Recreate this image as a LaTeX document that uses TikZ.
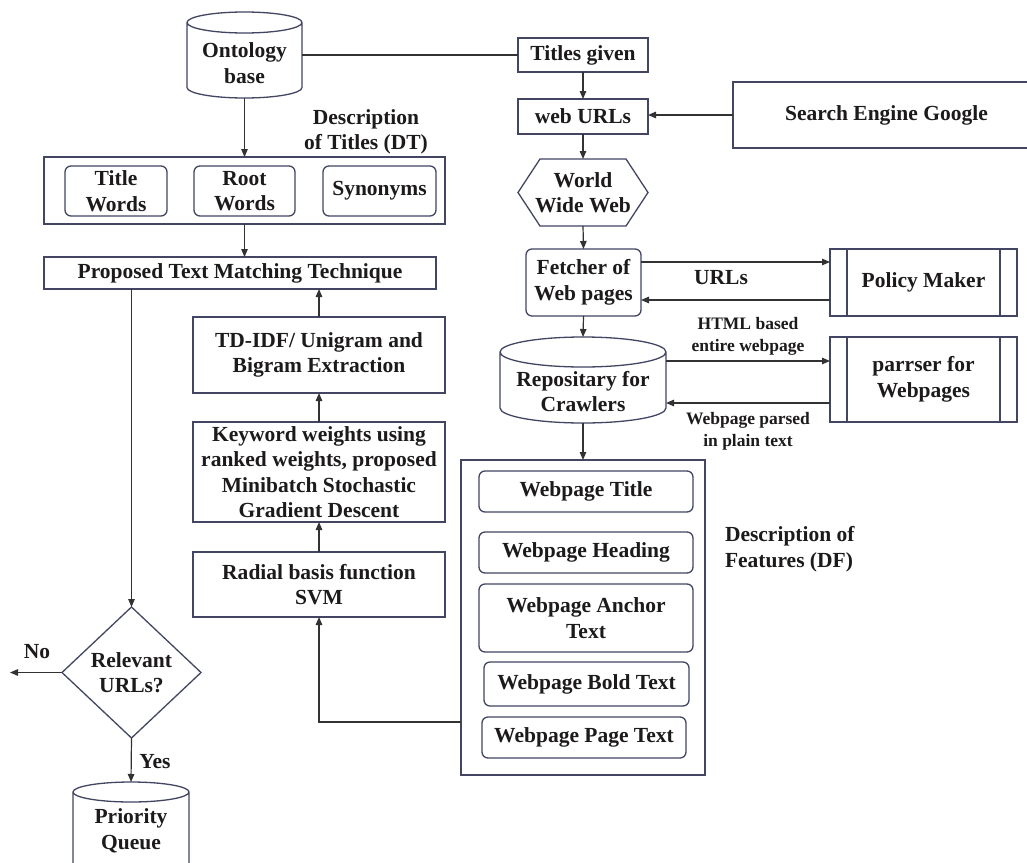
\documentclass[tikz,border=0pt]{standalone}
\usepackage{fontspec}
\setmainfont{Liberation Serif}
\usetikzlibrary{arrows.meta,calc}
\definecolor{bx}{RGB}{66,70,98}
\definecolor{ln}{RGB}{50,50,50}
\definecolor{tx}{RGB}{28,26,26}
% style, name, left, right, top, bottom, text  (pixel coordinates, y down)
\newcommand\boxnode[7]{%
  \node[#1, minimum width={(#4)-(#3)}, minimum height={(#6)-(#5)}] (#2) at ({((#3)+(#4))/2},{-((#5)+(#6))/2}) {#7};}
% left, right, top, bottom, ellipse half height
\newcommand\cyl[5]{%
  \pgfmathsetmacro\cylrx{((#2)-(#1))/2}%
  \draw[plain] (#1,{-(#3)-(#5)}) -- (#1,{-(#4)+(#5)}) arc[start angle=180,end angle=360,x radius=\cylrx,y radius=#5] -- (#2,{-(#3)-(#5)}) arc[start angle=0,end angle=360,x radius=\cylrx,y radius=#5];}
\begin{document}
\begin{tikzpicture}[x=1pt,y=1pt,
  every node/.style={font=\bfseries\fontsize{21.5}{25.5}\selectfont, text=tx, align=center, inner sep=0pt, outer sep=0pt},
  plain/.style={draw=bx, line width=1.3pt},
  rbox/.style={draw=bx, line width=1.3pt, rounded corners=6pt},
  ghost/.style={draw=none},
  lbl/.style={font=\bfseries\fontsize{17.5}{22}\selectfont},
  conn/.style={draw=ln, line width=1.2pt},
  arr/.style={conn, -{Triangle[length=8pt,width=6.5pt]}}
]
\useasboundingbox (0,0) rectangle (1027,-862);
\clip (0,0) rectangle (1027,-862);
\fill[white] (0,0) rectangle (1027,-862);

% ---- Ontology base
\boxnode{ghost}{onto}{187}{302}{12}{98}{}
\cyl{187}{302}{12}{98}{10.5}
\node (ontot) at (244.5,-63) {Ontology\\base};

% ---- right chain
\boxnode{plain}{titles}{518}{648}{38}{72}{Titles given}
\boxnode{plain}{weburl}{518}{648}{99}{134}{web URLs}
\boxnode{plain}{search}{733}{1040}{82}{148}{Search Engine Google}
\boxnode{ghost}{www}{518}{648}{159}{226}{World\\Wide Web}
\draw[plain] ([xshift=22pt]www.north west) -- ([xshift=-22pt]www.north east) -- (www.east) -- ([xshift=-22pt]www.south east) -- ([xshift=22pt]www.south west) -- (www.west) -- cycle;
\boxnode{rbox}{fetcher}{526}{641}{249}{316}{Fetcher of\\Web pages}
\boxnode{plain}{policy}{830}{1017}{249}{316}{Policy Maker}
\draw[plain] ([xshift=17pt]policy.north west) -- ([xshift=17pt]policy.south west);
\draw[plain] ([xshift=-17pt]policy.north east) -- ([xshift=-17pt]policy.south east);
\boxnode{ghost}{repo}{500}{666}{337}{423}{}
\cyl{500}{666}{337}{423}{15}
\node (repot) at (583,-391.5) {Repositary for\\Crawlers};
\boxnode{plain}{parser}{830}{1017}{337}{422}{parrser for\\Webpages}
\draw[plain] ([xshift=17pt]parser.north west) -- ([xshift=17pt]parser.south west);
\draw[plain] ([xshift=-17pt]parser.north east) -- ([xshift=-17pt]parser.south east);

% ---- features
\boxnode{plain}{feat}{461}{705}{460}{775}{}
\boxnode{rbox}{fa}{479}{693}{471}{512}{Webpage Title}
\boxnode{rbox}{fb}{479}{693}{532}{573}{Webpage Heading}
\boxnode{rbox}{fc}{479}{693}{584}{652}{Webpage Anchor\\Text}
\boxnode{rbox}{fd}{484}{689}{662}{706}{Webpage Bold Text}
\boxnode{rbox}{fe}{482}{686}{717}{758}{Webpage Page Text}
\node[align=left, anchor=west] (dflbl) at (725,-549) {Description of\\Features (DF)};

% ---- left column
\boxnode{plain}{dt}{44}{445}{157}{224}{}
\boxnode{rbox}{tw}{65}{167}{166}{216}{Title\\Words}
\boxnode{rbox}{rw}{194}{295}{166}{216}{Root\\Words}
\boxnode{rbox}{syn}{323}{436}{166}{216}{Synonyms}
\node (dtlbl) at (366,-132) {Description\\of Titles (DT)};
\boxnode{plain}{prop}{44}{436}{257}{289}{Proposed Text Matching Technique}
\boxnode{plain}{tdidf}{193}{445}{317}{393}{TD-IDF/ Unigram and\\Bigram Extraction}
\boxnode{plain}{kw}{193}{445}{422}{522}{Keyword weights using\\ranked weights, proposed\\Minibatch Stochastic\\Gradient Descent}
\boxnode{plain}{rbf}{193}{445}{552}{617}{Radial basis function\\SVM}
\boxnode{ghost}{dia}{62}{201}{607}{738}{Relevant\\URLs?}
\draw[plain] (dia.north) -- (dia.east) -- (dia.south) -- (dia.west) -- cycle;
\boxnode{ghost}{pq}{73}{189}{782}{880}{}
\cyl{73}{189}{782}{880}{10}
\node (pqt) at (131,-831) {Priority\\Queue};

% ---- connectors
\draw[conn] (onto.east |- titles.west) -- (titles.west);
\draw[arr] (titles.south) -- (weburl.north);
\draw[arr] (search.west) -- (search.west -| weburl.east);
\draw[arr] (weburl.south) -- (www.north);
\draw[arr] (www.south) -- (fetcher.north);
\coordinate (fpa) at ([yshift=-13pt]fetcher.north east);
\draw[arr] (fpa) -- (fpa -| policy.west);
\coordinate (pfa) at ([yshift=16pt]policy.south west);
\draw[arr] (pfa) -- (pfa -| fetcher.east);
\draw[arr] (fetcher.south) -- (repo.north);
\coordinate (rpa) at ([yshift=19pt]repo.east);
\draw[arr] (rpa) -- (rpa -| parser.west);
\coordinate (pra) at ([yshift=-23.5pt]parser.west);
\draw[arr] (pra) -- (pra -| repo.east);
\draw[arr] (repo.south) -- (feat.north);
\coordinate (fw) at ([yshift=53pt]feat.south west);
\draw[arr] (fw) -| (rbf.south);
\draw[arr] (rbf.north) -- (kw.south);
\draw[arr] (kw.north) -- (tdidf.south);
\draw[arr] (tdidf.north) -- (tdidf.north |- prop.south);
\draw[arr] (onto.south) -- (dt.north);
\draw[arr] (dt.south) -- (dt.south |- prop.north);
\draw[arr] (dia.north |- prop.south) -- (dia.north);
\coordinate (noend) at (10,-672.5);
\draw[arr] (dia.west) -- (noend);
\draw[arr] (dia.south) -- (pq.north);

% ---- labels
\node (no) at (37,-652) {No};
\node (yes) at (155,-762) {Yes};
\node (urls) at (721,-278) {URLs};
\node[lbl] (html) at (748,-336) {HTML based\\entire webpage};
\node[lbl] (parsed) at (748,-431.5) {Webpage parsed\\in plain text};
\end{tikzpicture}
\end{document}
